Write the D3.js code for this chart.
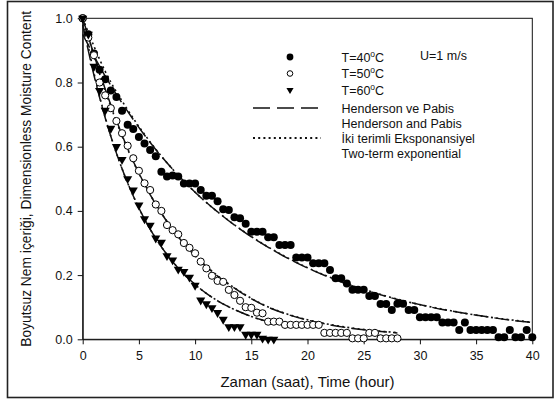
<!DOCTYPE html>
<html>
<head>
<meta charset="utf-8">
<script src="https://cdn.jsdelivr.net/npm/d3@7"></script>
<style>
  body { margin: 0; background: #fff; }
  svg text { font-family: "Liberation Sans", Arial, sans-serif; fill: #111; }
</style>
</head>
<body>
<div id="chart"></div>
<script>
const time40 = [0, 0.5, 1, 1.5, 2, 2.5, 3, 3.5, 4, 4.5, 5, 5.5, 6, 6.5, 7, 7.5, 8, 8.5, 9, 9.5,
  10, 10.5, 11, 11.5, 12, 12.5, 13, 13.5, 14, 14.5, 15, 15.5, 16, 16.5, 17, 17.5, 18, 18.5, 19, 19.5,
  20, 20.5, 21, 21.5, 22, 22.5, 23, 23.5, 24, 24.5, 25, 25.5, 26, 26.5, 27, 27.5, 28, 28.5, 29, 29.5,
  30, 30.5, 31, 31.5, 32, 32.5, 33, 33.5, 34, 34.5, 35, 35.5, 36, 36.5, 37, 37.5, 38, 38.5, 39, 39.5, 40]
const moist40 = [1.0, 0.95, 0.89, 0.84, 0.81, 0.775, 0.755, 0.712, 0.668, 0.655, 0.63, 0.61, 0.59, 0.57, 0.522, 0.507, 0.51, 0.507, 0.485, 0.485,
  0.485, 0.465, 0.447, 0.447, 0.43, 0.405, 0.403, 0.38, 0.377, 0.36, 0.335, 0.335, 0.335, 0.318, 0.318, 0.294, 0.294, 0.294, 0.255, 0.255,
  0.255, 0.237, 0.237, 0.237, 0.216, 0.19, 0.19, 0.174, 0.154, 0.154, 0.154, 0.135, 0.135, 0.11, 0.11, 0.091, 0.111, 0.111, 0.091, 0.091,
  0.069, 0.069, 0.069, 0.069, 0.052, 0.052, 0.052, 0.029, 0.052, 0.029, 0.029, 0.029, 0.029, 0.029, 0.006, 0.006, 0.029, 0.006, 0.006, 0.029, 0.006]

const time50 = [0, 0.5, 1, 1.5, 2, 2.5, 3, 3.5, 4, 4.5, 5, 5.5, 6, 6.5, 7, 7.5, 8, 8.5, 9, 9.5,
  10, 10.5, 11, 11.5, 12, 12.5, 13, 13.5, 14, 14.5, 15, 15.5, 16, 16.5, 17, 17.5, 18, 18.5, 19, 19.5,
  20, 20.5, 21, 21.5, 22, 22.5, 23, 23.5, 24, 24.5, 25, 25.5, 26, 26.5, 27, 27.5, 28]
const moist50 = [1.0, 0.94, 0.885, 0.80, 0.76, 0.72, 0.68, 0.642, 0.603, 0.564, 0.525, 0.486, 0.465, 0.42, 0.40, 0.356, 0.34, 0.327, 0.30, 0.285,
  0.268, 0.242, 0.221, 0.198, 0.182, 0.179, 0.154, 0.138, 0.12, 0.10, 0.098, 0.083, 0.081, 0.055, 0.055, 0.055, 0.045, 0.045, 0.045, 0.045,
  0.045, 0.045, 0.045, 0.02, 0.02, 0.02, 0.02, 0.02, 0.003, 0.003, 0.003, 0.02, 0.02, 0.003, 0.003, 0.003, 0.003]

const time60 = [0, 0.5, 1, 1.5, 2, 2.5, 3, 3.5, 4, 4.5, 5, 5.5, 6, 6.5, 7, 7.5, 8, 8.5, 9, 9.5,
  10, 10.5, 11, 11.5, 12, 12.5, 13, 13.5, 14, 14.5, 15, 15.5, 16, 16.5, 17]
const moist60 = [1.0, 0.95, 0.85, 0.775, 0.713, 0.657, 0.60, 0.56, 0.50, 0.465, 0.418, 0.375, 0.355, 0.315, 0.302, 0.26, 0.247, 0.218, 0.211, 0.193,
  0.168, 0.122, 0.11, 0.098, 0.083, 0.062, 0.039, 0.039, 0.039, 0.015, 0.015, 0.015, 0.003, 0.0, 0.0]

// fitted model curves
const fitTime40 = [0, 2, 4, 6, 8, 10, 12, 14, 16, 18, 20, 22, 24, 26, 28, 30, 32, 34, 36, 38, 40]
const hp40 = [0.95, 0.82, 0.71, 0.613, 0.53, 0.458, 0.397, 0.343, 0.297, 0.257, 0.222, 0.192, 0.166, 0.144, 0.124, 0.108, 0.093, 0.081, 0.070, 0.060, 0.052]
const tt40 = [1.0, 0.835, 0.715, 0.615, 0.53, 0.458, 0.397, 0.344, 0.298, 0.258, 0.223, 0.193, 0.167, 0.145, 0.125, 0.108, 0.094, 0.081, 0.070, 0.061, 0.053]

const fitTime50 = [0, 2, 4, 6, 8, 10, 12, 14, 16, 18, 20, 22, 24, 26, 28]
const hp50 = [1.0, 0.78, 0.594, 0.451, 0.342, 0.26, 0.197, 0.148, 0.108, 0.08, 0.06, 0.045, 0.034, 0.026, 0.02]
const tt50 = [1.0, 0.775, 0.592, 0.451, 0.343, 0.261, 0.198, 0.149, 0.109, 0.081, 0.061, 0.046, 0.035, 0.027, 0.021]

const fitTime60 = [0, 1, 2, 3, 4, 5, 6, 7, 8, 9, 10, 11, 12, 13, 14, 15, 16, 17]
const hp60 = [0.98, 0.823, 0.69, 0.58, 0.487, 0.409, 0.343, 0.288, 0.242, 0.203, 0.171, 0.143, 0.120, 0.101, 0.085, 0.071, 0.060, 0.050]
const tt60 = [1.0, 0.83, 0.692, 0.58, 0.487, 0.409, 0.343, 0.288, 0.242, 0.203, 0.170, 0.143, 0.120, 0.101, 0.085, 0.071, 0.059, 0.049]

const xTicks = [0, 5, 10, 15, 20, 25, 30, 35, 40]
const yTicks = [0.0, 0.2, 0.4, 0.6, 0.8, 1.0]

// sizes of the picture
const width = 560
const height = 403
const margin = {top: 18.3, right: 27.7, bottom: 63.7, left: 82.7}
const plotW = width - margin.left - margin.right
const plotH = height - margin.top - margin.bottom

const hpDash = "15,6"
const ttDash = "2,3.2"

var xScale = d3.scaleLinear().domain([0, 40]).range([0, plotW])
var yScale = d3.scaleLinear().domain([0, 1]).range([plotH, 0])

var svg = d3.select("#chart")
  .append("svg")
    .attr("width", width)
    .attr("height", height)

// outer frame round the whole figure
svg.append("rect")
  .attr("x", 7.5).attr("y", 1.5)
  .attr("width", 545.5).attr("height", 396)
  .attr("fill", "#fff")
  .attr("stroke", "#222")
  .attr("stroke-width", 1.6)

var g = svg.append("g")
  .attr("transform", "translate(" + margin.left + "," + margin.top + ")")

// axes
g.append("g")
  .attr("class", "x-axis")
  .attr("transform", "translate(0," + plotH + ")")
  .call(d3.axisBottom(xScale).tickValues(xTicks).tickSize(5).tickPadding(7).tickSizeOuter(0))

g.append("g")
  .attr("class", "y-axis")
  .call(d3.axisLeft(yScale).tickValues(yTicks).tickFormat(d3.format(".1f")).tickSize(5).tickPadding(5).tickSizeOuter(0))

g.selectAll(".x-axis text, .y-axis text")
  .style("font-size", "12.5px")
  .attr("fill", "#111")
g.selectAll(".domain, .tick line").attr("stroke", "#111")

// box round the plot
g.append("rect")
  .attr("width", plotW).attr("height", plotH)
  .attr("fill", "none")
  .attr("stroke", "#111")
  .attr("stroke-width", 1)

// axis titles
svg.append("text")
  .attr("x", margin.left + plotW / 2)
  .attr("y", 387)
  .attr("text-anchor", "middle")
  .style("font-size", "15px")
  .text("Zaman (saat), Time (hour)")

svg.append("text")
  .attr("transform", "translate(31," + (margin.top + plotH / 2) + ") rotate(-90)")
  .attr("text-anchor", "middle")
  .style("font-size", "13.8px")
  .text("Boyutsuz Nem içeriği, Dimensionless Moisture Content")

// model lines
var line = d3.line()
  .x(function(d) { return xScale(d[0]) })
  .y(function(d) { return yScale(d[1]) })
  .curve(d3.curveMonotoneX)

var fits = [
  {t: fitTime40, hp: hp40, tt: tt40},
  {t: fitTime50, hp: hp50, tt: tt50},
  {t: fitTime60, hp: hp60, tt: tt60}
]

fits.forEach(function(f) {
  g.append("path")
    .datum(d3.zip(f.t, f.hp))
    .attr("d", line)
    .attr("fill", "none")
    .attr("stroke", "#111")
    .attr("stroke-width", 1.5)
    .attr("stroke-dasharray", hpDash)
  g.append("path")
    .datum(d3.zip(f.t, f.tt))
    .attr("d", line)
    .attr("fill", "none")
    .attr("stroke", "#111")
    .attr("stroke-width", 1.6)
    .attr("stroke-dasharray", ttDash)
})

// measured points
g.append("g").selectAll("circle")
  .data(d3.zip(time40, moist40))
  .enter().append("circle")
    .attr("cx", function(d) { return xScale(d[0]) })
    .attr("cy", function(d) { return yScale(d[1]) })
    .attr("r", 4)
    .attr("fill", "#000")

g.append("g").selectAll("circle")
  .data(d3.zip(time50, moist50))
  .enter().append("circle")
    .attr("cx", function(d) { return xScale(d[0]) })
    .attr("cy", function(d) { return yScale(d[1]) })
    .attr("r", 3.6)
    .attr("fill", "#fff")
    .attr("stroke", "#000")
    .attr("stroke-width", 1)

var tri = d3.symbol().type(d3.symbolTriangle).size(36)

g.append("g").selectAll("path")
  .data(d3.zip(time60, moist60))
  .enter().append("path")
    .attr("d", tri)
    .attr("transform", function(d) { return "translate(" + xScale(d[0]) + "," + yScale(d[1]) + ") rotate(180)" })
    .attr("fill", "#000")

// legend
var legend = svg.append("g").attr("class", "legend")
var labelX = 341.5

function tempLabel(y, temp) {
  var t = legend.append("text").attr("x", labelX).attr("y", y + 4.5).style("font-size", "12.5px")
  t.append("tspan").text("T=" + temp)
  t.append("tspan").attr("dy", -5).style("font-size", "8.5px").text("o")
  t.append("tspan").attr("dy", 5).text("C")
}

legend.append("circle").attr("cx", 290).attr("cy", 57).attr("r", 3.4).attr("fill", "#000")
tempLabel(57, 40)
legend.append("circle").attr("cx", 290).attr("cy", 73.5).attr("r", 2.8)
  .attr("fill", "#fff").attr("stroke", "#000").attr("stroke-width", 1)
tempLabel(73.5, 50)
legend.append("path").attr("d", d3.symbol().type(d3.symbolTriangle).size(22))
  .attr("transform", "translate(290,90) rotate(180)").attr("fill", "#000")
tempLabel(90, 60)

legend.append("text").attr("x", 420).attr("y", 59.5).style("font-size", "12.5px").text("U=1 m/s")

legend.append("line").attr("x1", 253).attr("x2", 319).attr("y1", 108).attr("y2", 108)
  .attr("stroke", "#111").attr("stroke-width", 1.5).attr("stroke-dasharray", "17,7")
legend.append("text").attr("x", labelX).attr("y", 112.5).style("font-size", "12.5px").text("Henderson ve Pabis")
legend.append("text").attr("x", labelX).attr("y", 128).style("font-size", "12.5px").text("Henderson and Pabis")

legend.append("line").attr("x1", 253).attr("x2", 321).attr("y1", 138).attr("y2", 138)
  .attr("stroke", "#111").attr("stroke-width", 1.8).attr("stroke-dasharray", ttDash)
legend.append("text").attr("x", labelX).attr("y", 142.5).style("font-size", "12.5px").text("İki terimli Eksponansiyel")
legend.append("text").attr("x", labelX).attr("y", 158).style("font-size", "12.5px").text("Two-term exponential")
</script>
</body>
</html>
